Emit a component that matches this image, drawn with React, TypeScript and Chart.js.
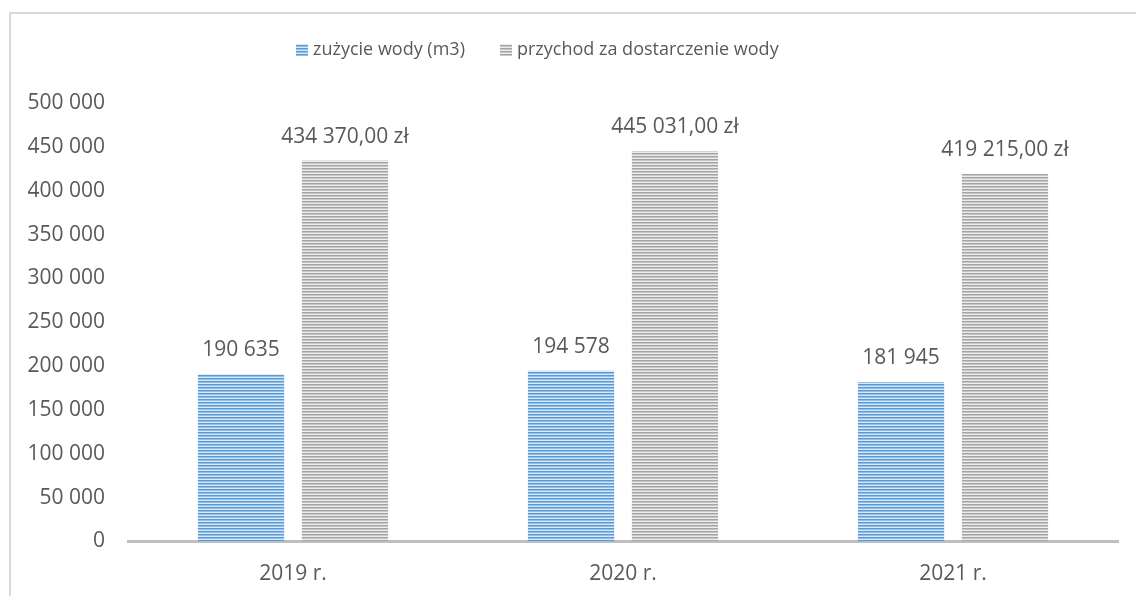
import React, { useEffect, useRef } from "react";
import { Chart, registerables } from "chart.js";

Chart.register(...registerables);

const categories = ["2019 r.", "2020 r.", "2021 r."];
const waterUsage = [190635, 194578, 181945];
const revenue = [434370.0, 445031.0, 419215.0];
const seriesLabels = ["zużycie wody (m3)", "przychod za dostarczenie wody"];
const yMax = 500000;
const yStep = 50000;

const FONT = "'Open Sans', 'DejaVu Sans', sans-serif";
const TEXT = "#595959";

function groupThousands(v: number): string {
  return Math.round(v)
    .toString()
    .replace(/\B(?=(\d{3})+(?!\d))/g, " ");
}
function formatZl(v: number): string {
  const [i, d] = v.toFixed(2).split(".");
  return `${groupThousands(Number(i))},${d} zł`;
}

function makeStripes(colors: string[]): CanvasPattern | string {
  const c = document.createElement("canvas");
  c.width = 4;
  c.height = colors.length;
  const ctx = c.getContext("2d");
  if (!ctx) return colors[0];
  colors.forEach((col, i) => {
    ctx.fillStyle = col;
    ctx.fillRect(0, i, 4, 1);
  });
  const p = ctx.createPattern(c, "repeat");
  return p || colors[0];
}

export default function App() {
  const ref = useRef<HTMLCanvasElement | null>(null);

  useEffect(() => {
    if (!ref.current) return;
    const bluePat = makeStripes(["#5B9BD5", "#93BEE6", "#DAE9F7"]);
    const grayPat = makeStripes(["#A5A5A5", "#C6C6C6", "#EDEDED"]);
    const patterns = [bluePat, grayPat];
    const formatters = [groupThousands, formatZl];

    const legendPlugin = {
      id: "customLegend",
      afterDraw(chart: any) {
        const ctx = chart.ctx;
        ctx.save();
        ctx.font = `18px ${FONT}`;
        ctx.textBaseline = "middle";
        ctx.textAlign = "left";
        const starts = [296, 500];
        const cy = 50;
        seriesLabels.forEach((lab, i) => {
          ctx.fillStyle = patterns[i];
          ctx.fillRect(starts[i], cy - 6, 12, 12);
          ctx.fillStyle = TEXT;
          ctx.fillText(lab, starts[i] + 17, cy);
        });
        ctx.restore();
      },
    };

    const labelPlugin = {
      id: "valueLabels",
      afterDatasetsDraw(chart: any) {
        const ctx = chart.ctx;
        ctx.save();
        ctx.font = `21px ${FONT}`;
        ctx.fillStyle = TEXT;
        ctx.textAlign = "center";
        ctx.textBaseline = "middle";
        chart.data.datasets.forEach((ds: any, di: number) => {
          const meta = chart.getDatasetMeta(di);
          meta.data.forEach((el: any, i: number) => {
            ctx.fillText(formatters[di](ds.data[i]), el.x, el.y - 24);
          });
        });
        ctx.restore();
      },
    };

    const chart = new Chart(ref.current, {
      type: "bar",
      data: {
        labels: categories,
        datasets: [
          {
            label: seriesLabels[0],
            data: waterUsage,
            backgroundColor: bluePat as any,
            borderWidth: 0,
            categoryPercentage: 0.63,
            barPercentage: 0.83,
          },
          {
            label: seriesLabels[1],
            data: revenue,
            backgroundColor: grayPat as any,
            borderWidth: 0,
            categoryPercentage: 0.63,
            barPercentage: 0.83,
          },
        ],
      },
      options: {
        responsive: false,
        animation: false,
        devicePixelRatio: 1,
        layout: { padding: { top: 103, right: 18, left: 0, bottom: 0 } },
        plugins: {
          legend: { display: false },
          tooltip: { enabled: false },
        },
        scales: {
          x: {
            grid: { display: false, drawTicks: false },
            border: { display: true, color: "#BFBFBF", width: 3 },
            ticks: {
              color: TEXT,
              font: { family: FONT, size: 21 },
              padding: 20,
            },
            afterFit(scale: any) {
              scale.height = 54.5;
            },
          },
          y: {
            min: 0,
            max: yMax,
            grid: { display: false, drawTicks: false },
            border: { display: false },
            ticks: {
              stepSize: yStep,
              color: TEXT,
              font: { family: FONT, size: 21 },
              padding: 23,
              callback: (v: any) => groupThousands(Number(v)),
            },
            afterFit(scale: any) {
              scale.width = 128;
            },
          },
        },
      },
      plugins: [labelPlugin, legendPlugin],
    });
    return () => chart.destroy();
  }, []);

  return (
    <div
      style={{
        position: "fixed",
        left: 0,
        top: 0,
        width: 1136,
        height: 596,
        background: "#fff",
        overflow: "hidden",
      }}
    >
      <div
        style={{
          position: "absolute",
          left: 9,
          top: 12,
          width: 1200,
          height: 700,
          border: "2px solid #D9D9D9",
          boxSizing: "border-box",
        }}
      />
      <canvas
        ref={ref}
        width={1136}
        height={596}
        style={{ position: "absolute", left: 0, top: 0, width: 1136, height: 596 }}
      />
    </div>
  );
}
